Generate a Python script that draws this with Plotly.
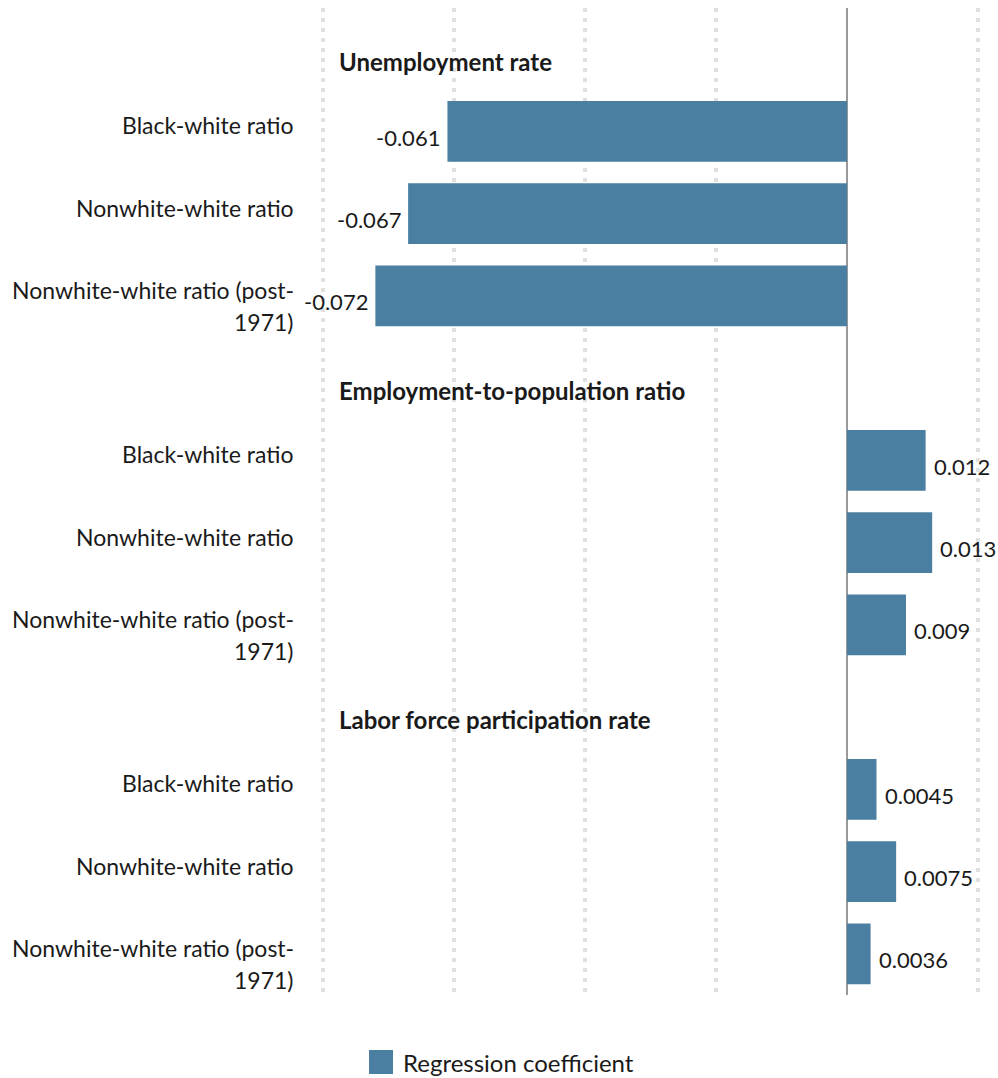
import plotly.graph_objects as go

# ---- data ----
groups = ["Unemployment rate", "Employment-to-population ratio", "Labor force participation rate"]
measures = ["Black-white ratio", "Nonwhite-white ratio", "Nonwhite-white ratio (post-1971)"]
measure_labels = ["Black-white ratio", "Nonwhite-white ratio", "Nonwhite-white ratio (post-<br>1971)"]
unemployment = [-0.061, -0.067, -0.072]
employment_pop = [0.012, 0.013, 0.009]
labor_force = [0.0045, 0.0075, 0.0036]
value_labels = [["-0.061", "-0.067", "-0.072"], ["0.012", "0.013", "0.009"], ["0.0045", "0.0075", "0.0036"]]
series_name = "Regression coefficient"
x_ticks = [-0.08, -0.06, -0.04, -0.02, 0, 0.02]

group_values = [unemployment, employment_pop, labor_force]

FONT = "Lato, 'Open Sans', sans-serif"
TXT = "#1a1a1a"
BAR = "#4a7fa1"

# layout geometry (body margin removed via post_script)
W, H = 998, 1078
ML, MR, MT, MB = 321, 18, 8, 83
PW, PH = W - ML - MR, H - MT - MB


def px_x(page_x):
    return (page_x - ML) / PW


def px_y(page_y):
    return (H - MB - page_y) / PH


ys, xs = [], []
annotations = []
for g, (gname, vals) in enumerate(zip(groups, group_values)):
    head_row = 4 * g
    annotations.append(dict(x=x_ticks[0], y=head_row, xref="x", yref="y", text="<b>" + gname + "</b>",
                            showarrow=False, xanchor="left", yanchor="middle", xshift=14, yshift=-12,
                            font=dict(family=FONT, size=24, color=TXT)))
    for i, v in enumerate(vals):
        row = head_row + 1 + i
        ys.append(row)
        xs.append(v)
        for k, line in enumerate(measure_labels[i].split("<br>")):
            annotations.append(dict(x=0, y=row, xref="paper", yref="y", text=line,
                                    showarrow=False, xanchor="right", yanchor="middle", align="right",
                                    xshift=-25, yshift=6 - 32 * k,
                                    font=dict(family=FONT, size=23, color=TXT)))
        annotations.append(dict(x=v, y=row, xref="x", yref="y", text=value_labels[g][i],
                                showarrow=False, xanchor="right" if v < 0 else "left", yanchor="middle",
                                xshift=-5 if v < 0 else 6, yshift=-6,
                                font=dict(family=FONT, size=22, color=TXT)))

# legend (drawn manually to match the large swatch)
annotations.append(dict(x=px_x(404), y=px_y(1062), xref="paper", yref="paper", text=series_name,
                        showarrow=False, xanchor="left", yanchor="middle", xshift=-3,
                        font=dict(family=FONT, size=24, color=TXT)))
shapes = [dict(type="rect", xref="paper", yref="paper", x0=px_x(369), x1=px_x(393),
               y0=px_y(1074), y1=px_y(1050), fillcolor=BAR, line=dict(width=0))]

fig = go.Figure(go.Bar(x=xs, y=ys, orientation="h", width=0.74, marker=dict(color=BAR, line=dict(width=0)),
                       name=series_name, showlegend=False, hoverinfo="x"))

fig.update_layout(
    width=W, height=H,
    margin=dict(l=ML, r=MR, t=MT, b=MB, pad=0),
    paper_bgcolor="white", plot_bgcolor="white",
    font=dict(family=FONT, size=20, color=TXT),
    annotations=annotations,
    shapes=shapes,
    showlegend=False,
    xaxis=dict(range=[-0.0803, 0.0203], tickvals=x_ticks, showticklabels=False, showgrid=True,
               gridcolor="#e0e0e0", gridwidth=4, griddash="4px,6px",
               zeroline=True, zerolinecolor="#999999", zerolinewidth=2, showline=False, ticks=""),
    yaxis=dict(range=[11.5, -0.5], showticklabels=False, showgrid=False, zeroline=False, showline=False, ticks=""),
)

fig.write_html("out.html", config={"displayModeBar": False},
               post_script="document.body.style.margin='0';document.body.style.overflow='hidden';")
